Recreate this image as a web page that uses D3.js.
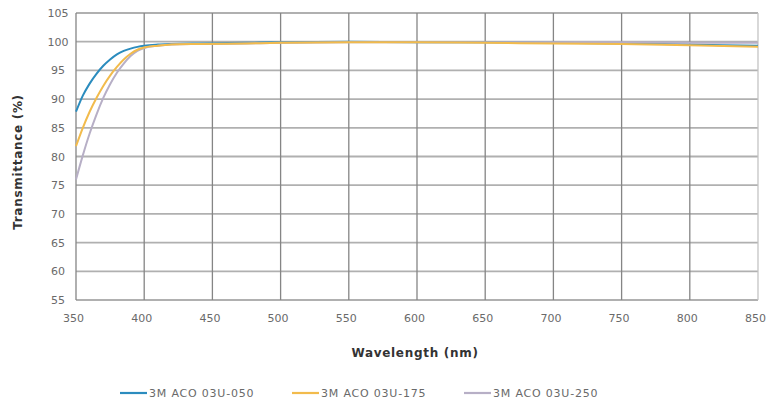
<!DOCTYPE html>
<html>
<head>
<meta charset="utf-8">
<script src="https://cdn.jsdelivr.net/npm/d3@7"></script>
<style>
  body { margin: 0; background: #fff; }
  text { font-family: "DejaVu Sans", Verdana, sans-serif; }
  .tick text { fill: #6a6a6a; font-size: 11px; }
  .title { fill: #333; font-size: 12px; font-weight: 700; letter-spacing: 0.7px; }
  .legend text { fill: #6a6a6a; font-size: 11px; letter-spacing: 0.8px; }
</style>
</head>
<body>
<div id="vis"></div>
<script>
var wavelengths = [350, 355, 360, 365, 370, 375, 380, 385, 390, 395, 400, 410, 420, 440, 475, 500, 550, 600, 650, 700, 750, 800, 850];
var aco050 = [87.8, 90.6, 92.7, 94.4, 95.8, 96.9, 97.8, 98.4, 98.8, 99.1, 99.3, 99.5, 99.6, 99.7, 99.8, 99.9, 100.0, 99.9, 99.9, 99.8, 99.7, 99.5, 99.3];
var aco175 = [81.8, 85.0, 87.8, 90.2, 92.3, 94.1, 95.6, 96.9, 97.9, 98.6, 99.0, 99.3, 99.5, 99.6, 99.7, 99.8, 99.9, 99.9, 99.8, 99.7, 99.6, 99.4, 99.1];
var aco250 = [76.0, 80.2, 84.0, 87.3, 90.2, 92.6, 94.6, 96.2, 97.5, 98.4, 98.9, 99.3, 99.5, 99.6, 99.7, 99.8, 99.9, 99.9, 99.9, 99.9, 99.9, 99.8, 99.8];
var seriesNames = ["3M ACO 03U-050", "3M ACO 03U-175", "3M ACO 03U-250"];
var seriesColors = ["#2b8cbe", "#f2bb4c", "#b7afc6"];
var xTicks = [350, 400, 450, 500, 550, 600, 650, 700, 750, 800, 850];
var yTicks = [55, 60, 65, 70, 75, 80, 85, 90, 95, 100, 105];

var width = 769, height = 412;
var margin = { left: 76, top: 13, right: 11, bottom: 112 };
var drawWidth = width - margin.left - margin.right;
var drawHeight = height - margin.top - margin.bottom;

var svg = d3.select("#vis").append("svg")
    .attr("width", width)
    .attr("height", height);

var g = svg.append("g")
    .attr("transform", "translate(" + margin.left + "," + margin.top + ")");

var xScale = d3.scaleLinear().domain([350, 850]).range([0, drawWidth]);
var yScale = d3.scaleLinear().domain([55, 105]).range([drawHeight, 0]);

// horizontal grid
g.selectAll(".hgrid").data(yTicks).enter().append("line")
    .attr("class", "hgrid")
    .attr("x1", 0).attr("x2", drawWidth)
    .attr("y1", function(d) { return yScale(d); })
    .attr("y2", function(d) { return yScale(d); })
    .attr("stroke", "#b0b0b0")
    .attr("stroke-width", 1.8);

// vertical grid (right border is lighter)
g.selectAll(".vgrid").data(xTicks).enter().append("line")
    .attr("class", "vgrid")
    .attr("x1", function(d) { return xScale(d); })
    .attr("x2", function(d) { return xScale(d); })
    .attr("y1", 0).attr("y2", drawHeight)
    .attr("stroke", function(d) { return d == 850 ? "#c4c4c4" : "#858585"; })
    .attr("stroke-width", 1.3);

// axes (labels only)
var xAxis = d3.axisBottom(xScale).tickValues(xTicks).tickSize(0).tickPadding(14);
var yAxis = d3.axisLeft(yScale).tickValues(yTicks).tickSize(0).tickPadding(21);

var xg = g.append("g").attr("transform", "translate(0," + drawHeight + ")").call(xAxis);
var yg = g.append("g").call(yAxis);
xg.select(".domain").remove();
yg.select(".domain").remove();
xg.selectAll("text").attr("dx", "-3");
yg.selectAll("text").attr("text-anchor", "middle").attr("dx", "3");

// lines
var allSeries = [aco050, aco175, aco250];
var line = d3.line()
    .curve(d3.curveMonotoneX)
    .x(function(d, i) { return xScale(wavelengths[i]); })
    .y(function(d) { return yScale(d); });

[0, 2, 1].forEach(function(k) {
    g.append("path")
        .datum(allSeries[k])
        .attr("fill", "none")
        .attr("stroke", seriesColors[k])
        .attr("stroke-width", 2)
        .attr("d", line);
});

// axis titles
svg.append("text")
    .attr("class", "title")
    .attr("text-anchor", "middle")
    .attr("x", margin.left + xScale(600) - 2)
    .attr("y", 357)
    .text("Wavelength (nm)");

svg.append("text")
    .attr("class", "title")
    .attr("text-anchor", "middle")
    .attr("transform", "translate(22,162) rotate(-90)")
    .text("Transmittance (%)");

// legend
var legendX = [120, 292, 464];
var legend = svg.append("g").attr("class", "legend");
seriesNames.forEach(function(name, i) {
    legend.append("line")
        .attr("x1", legendX[i]).attr("x2", legendX[i] + 27)
        .attr("y1", 393).attr("y2", 393)
        .attr("stroke", seriesColors[i])
        .attr("stroke-width", 2.2);
    legend.append("text")
        .attr("x", legendX[i] + 29)
        .attr("y", 397)
        .text(name);
});
</script>
</body>
</html>
